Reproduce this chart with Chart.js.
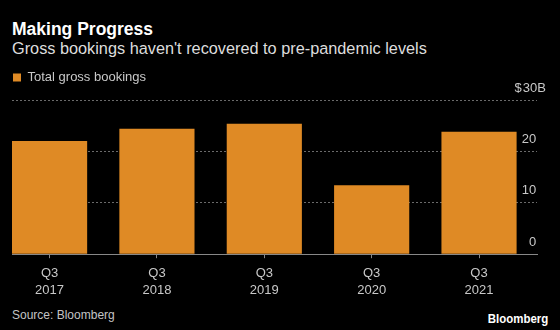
<!DOCTYPE html>
<html>
<head>
<meta charset="utf-8">
<script src="https://cdn.jsdelivr.net/npm/chart.js@4"></script>
<style>
  html, body { margin: 0; padding: 0; background: #000; }
  body { width: 560px; height: 330px; position: relative; overflow: hidden; font-family: "Liberation Sans", Arial, sans-serif; }
  .title { position: absolute; left: 12px; top: 19px; color: #fff; font-weight: bold; font-size: 17.5px; }
  .subtitle { position: absolute; left: 12px; top: 39px; color: #ddd; font-size: 16.3px; }
  .source { position: absolute; left: 12px; top: 307.5px; color: #c4c4c4; font-size: 12px; }
  .brand { position: absolute; right: 12px; top: 310.5px; color: #fff; font-weight: bold; font-size: 13.5px; transform: scaleX(0.85); transform-origin: right center; }
  .wrap { position: absolute; left: 0; top: 0; width: 560px; height: 306px; }
</style>
</head>
<body>
<div class="title">Making Progress</div>
<div class="subtitle">Gross bookings haven't recovered to pre-pandemic levels</div>
<div class="wrap"><canvas class="js-chart"></canvas></div>
<div class="source">Source: Bloomberg</div>
<div class="brand">Bloomberg</div>
<script>
// quarterly gross bookings, $ billions
const quarters = [["Q3", "2017"], ["Q3", "2018"], ["Q3", "2019"], ["Q3", "2020"], ["Q3", "2021"]];
const bookings = [22.0, 24.4, 25.4, 13.4, 23.8];
const yTicks = [0, 10, 20, 30];

const ctx = document.querySelector(".js-chart").getContext("2d");
const ORANGE = "#df8a25";
const GREY_TEXT = "#c8c8c8";

// push the plot down a bit under the legend
const legendGap = {
  id: "legendGap",
  beforeInit(chart) {
    const fit = chart.legend.fit;
    chart.legend.fit = function () {
      fit.call(this);
      this.height += 6;
    };
  },
};

// top tick gets the unit, the others get trailing space so the digits line up
function yLabel(value) {
  if (value === 30) return "$\u200A30B";
  return value + "\u2007\u2009";
}

new Chart(ctx, {
  type: "bar",
  data: {
    datasets: [
      {
        label: "Total gross bookings",
        data: bookings.map((v, i) => ({ x: i, y: v })),
        backgroundColor: ORANGE,
        borderWidth: 0,
        categoryPercentage: 1,
        barPercentage: 0.7,
      },
    ],
  },
  plugins: [legendGap],
  options: {
    responsive: true,
    maintainAspectRatio: false,
    animation: false,
    layout: { padding: { top: 70, left: 12, right: 14, bottom: 0 } },
    plugins: {
      tooltip: { enabled: false },
      legend: {
        position: "top",
        align: "start",
        labels: {
          boxWidth: 8,
          boxHeight: 8,
          padding: 1,
          color: GREY_TEXT,
          font: { family: "Liberation Sans", size: 13 },
        },
      },
    },
    scales: {
      x: {
        type: "linear",
        offset: false,
        min: -0.35,
        max: 4.54,
        afterBuildTicks: (scale) => {
          scale.ticks = quarters.map((_, i) => ({ value: i }));
        },
        ticks: {
          callback: (value) => quarters[value],
          color: GREY_TEXT,
          font: { family: "Liberation Sans", size: 13, lineHeight: 1.3 },
          padding: 7,
          maxRotation: 0,
        },
        grid: {
          offset: false,
          drawOnChartArea: false,
          drawTicks: true,
          tickLength: 4,
          color: "#888",
        },
        border: { display: true, color: "#888", width: 1 },
      },
      y: {
        position: "right",
        min: 0,
        max: 30,
        afterBuildTicks: (scale) => {
          scale.ticks = yTicks.map((v) => ({ value: v }));
        },
        afterFit: (scale) => {
          scale.width = 9;
        },
        ticks: {
          callback: yLabel,
          color: GREY_TEXT,
          font: { family: "Liberation Sans", size: 13 },
          mirror: true,
          labelOffset: -12,
          padding: 9,
        },
        grid: {
          drawTicks: false,
          color: "#6a6a6a",
          lineWidth: 1,
        },
        border: { display: false, dash: [2, 2] },
      },
    },
  },
});
</script>
</body>
</html>
